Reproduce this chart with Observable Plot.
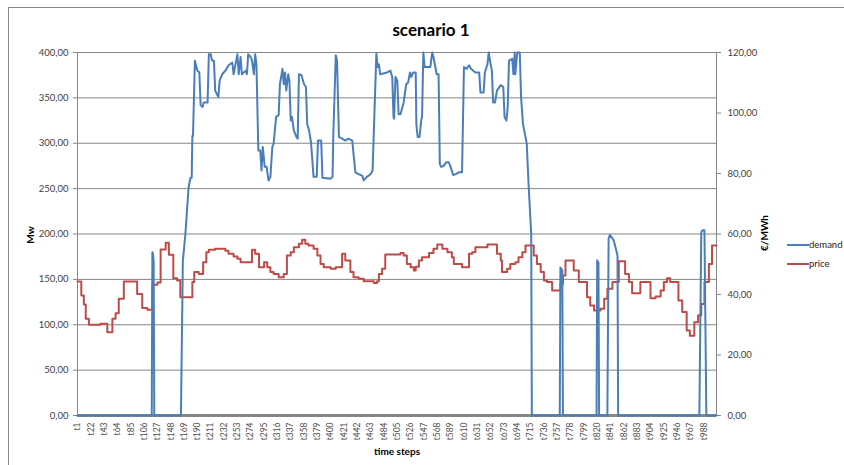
<!DOCTYPE html>
<html>
<head>
<meta charset="utf-8">
<script src="https://cdn.jsdelivr.net/npm/d3@7"></script>
<script src="https://cdn.jsdelivr.net/npm/@observablehq/plot@0.6"></script>
<style>
  body { margin: 0; background: #fff; font-family: Lato, "Liberation Sans", sans-serif; }
  #wrap { position: relative; width: 844px; height: 465px; overflow: hidden; background: #fff; }
  #border { position: absolute; left: 8px; top: 7px; width: 900px; height: 500px;
            border-left: 1px solid #8a8a8a; border-top: 1px solid #8a8a8a; }
  #chart { position: absolute; left: 0; top: 0; }
  .t { position: absolute; white-space: nowrap; color: #000; line-height: 1; }
  .b { font-weight: bold; }
  .rot { transform: translate(-50%, -50%) rotate(-90deg); }
  .leg { position: absolute; height: 2px; width: 22px; }
</style>
</head>
<body>
<div id="wrap">
  <div id="border"></div>
  <div id="chart"></div>
  <div class="t b" id="title" style="left:431px;top:29px;font-size:17px;transform:translate(-50%,-50%);">scenario 1</div>
  <div class="t b rot" style="left:30px;top:235px;font-size:10px;">Mw</div>
  <div class="t b rot" style="left:764px;top:233px;font-size:10px;">€/MWh</div>
  <div class="t b" style="left:397px;top:451px;font-size:10px;transform:translate(-50%,-50%);">time steps</div>
  <div class="leg" style="left:787px;top:244px;background:#4a7ebb;"></div>
  <div class="t" style="left:809px;top:239.5px;font-size:9.5px;color:#222;">demand</div>
  <div class="leg" style="left:787px;top:263px;background:#be4b48;"></div>
  <div class="t" style="left:809px;top:258.5px;font-size:9.5px;color:#222;">price</div>
</div>
<script>
// ---- data ----
const seriesNames = ["demand", "price"];
const nSteps = 1008;

const xTicks = [1,22,43,64,85,106,127,148,169,190,211,232,253,274,295,316,337,358,379,400,421,442,463,484,505,526,547,568,589,610,631,652,673,694,715,736,757,778,799,820,841,862,883,904,925,946,967,988];
const leftTicks = [0,50,100,150,200,250,300,350,400];
const rightTicks = [0,20,40,60,80,100,120];

// demand (Mw) : time step, value
const demandT = [1,118,119,120,121,122,164,167,171,176,179,181,182,183,186,190,193,195,198,200,206,208,211,213,216,218,223,225,229,234,239,245,247,253,255,258,260,266,268,270,274,276,279,281,283,286,289,291,293,296,299,302,305,308,310,314,318,320,324,326,328,330,333,335,337,339,342,346,348,350,354,358,361,363,366,369,373,378,380,385,387,400,403,404,408,410,413,418,423,428,434,436,439,444,450,452,457,463,466,472,474,476,478,489,494,497,499,500,502,505,507,510,515,519,522,525,527,530,534,535,537,540,543,544,546,548,557,560,562,567,570,572,574,578,582,586,589,593,597,602,607,610,614,618,621,628,634,636,641,643,647,649,652,654,656,659,662,668,672,674,677,679,681,686,688,690,691,694,698,700,703,707,709,712,716,717,761,762,765,766,819,820,822,823,836,838,840,843,846,850,852,853,981,984,986,989,992,1008];
const demandV = [0,0,180,178,170,0,0,170,200,251,262,262,308,308,391,380,378,342,340,345,345,398,398,391,391,358,351,369,376,380,386,389,376,398,376,395,376,380,376,398,395,391,376,398,387,292,292,270,296,274,274,259,263,296,299,329,331,365,382,365,378,358,376,369,325,329,314,307,305,376,375,365,362,321,314,301,263,263,303,303,262,261,263,306,397,391,307,305,303,305,303,288,268,266,264,259,263,266,270,399,384,387,376,378,380,373,329,327,373,369,332,332,345,365,367,378,373,378,378,321,307,307,327,329,400,384,384,400,395,376,376,277,274,275,279,279,274,265,266,268,268,384,382,386,382,378,378,356,356,378,387,400,387,380,345,345,358,364,362,329,325,340,391,393,376,400,376,400,400,351,321,307,299,252,200,0,0,163,160,0,0,171,168,0,0,195,199,196,193,182,176,0,0,202,204,204,0,0];

// price (€/MWh) : step start, value
const priceT = [1,7,11,14,19,37,48,56,61,66,74,95,103,111,119,127,132,140,145,152,158,163,182,185,192,199,204,208,218,234,239,247,253,258,276,281,287,295,300,305,310,318,326,331,337,342,350,355,360,365,373,379,384,389,400,408,418,423,431,436,444,452,468,473,476,481,486,510,515,520,526,531,534,539,544,555,562,568,576,584,591,594,607,618,623,628,647,662,668,670,678,683,691,696,702,707,720,725,731,736,741,749,762,766,770,783,791,804,809,815,825,831,836,844,854,864,870,875,888,904,912,920,925,930,935,948,954,961,966,973,979,984,989,996,1001,1008];
const priceV = [44.3,39.7,36.7,32,30,30.3,27.5,32,33.8,38.6,44.3,40.2,35.5,35,43.2,44,54.9,57.1,53.1,45.4,44.6,39.1,44.1,47.4,46.8,50.7,54,54.8,55.1,54.5,53.5,52.6,51.8,50.7,54.8,53.5,49,50.7,49,47.4,46.8,45.7,46.8,52.9,54,55.6,56.8,58.1,56.8,56.2,55.1,52.9,50.1,49,48.5,49,53.5,51.2,47.4,45.7,45.2,44.4,43.8,44.4,46.8,48.5,53.2,53.7,52.9,50.1,49,47.9,49.2,51.2,52.3,53.7,55.1,56.5,55.1,54,52.3,50.1,49,53.5,54,55.6,56.5,53.5,51.2,47.4,48.5,50.1,50.7,52.3,54,56.2,52.9,50.1,47.4,44.6,44.1,41.3,43.5,46.3,51.2,47.9,44.1,39.1,36.4,34.7,35.3,38.6,41.9,44.1,51,46.8,44.1,40.4,44.1,38.8,39.3,41.3,44.1,45.4,44.1,38,34.2,28.1,26.4,30.8,33.1,36.9,44.1,50.1,56.2,56.2];

// ---- build ----
const leftMax = 400, rightMax = 120;
const toLeft = p => p * leftMax / rightMax;
const fmt = v => v.toFixed(2).replace(".", ",");

const demand = demandT.map((t, i) => ({t, v: demandV[i]}));
const price = priceT.map((t, i) => ({t, v: priceV[i]}));

const gridColor = "#868686";
const textColor = "#404040";

const chart = Plot.plot({
  width: 844,
  height: 465,
  marginLeft: 77,
  marginRight: 128,
  marginTop: 52,
  marginBottom: 50,
  style: { fontFamily: "Lato, 'Liberation Sans', sans-serif", fontSize: "9.5px", background: "transparent", overflow: "visible" },
  x: { type: "linear", domain: [1, nSteps] },
  y: { domain: [0, leftMax] },
  marks: [
    Plot.ruleY(leftTicks, { stroke: gridColor, strokeWidth: 1 }),
    Plot.ruleX([1, nSteps], { stroke: gridColor, strokeWidth: 1 }),
    Plot.axisY({ anchor: "left", ticks: leftTicks, tickFormat: fmt, tickSize: 4, tickPadding: 5,
                 label: null, stroke: gridColor, fill: textColor, fontSize: 9.5 }),
    Plot.axisY({ anchor: "right", ticks: rightTicks.map(toLeft), tickFormat: v => fmt(v * rightMax / leftMax),
                 tickSize: 4, tickPadding: 7, label: null, stroke: gridColor, fill: textColor, fontSize: 9.5 }),
    Plot.axisX({ anchor: "bottom", ticks: xTicks, tickFormat: d => "t" + d, tickRotate: -90, tickSize: 0,
                 tickPadding: 7, label: null, fill: "#505050", fontSize: 8.5 }),
    Plot.ruleY([0], { stroke: gridColor, strokeWidth: 3 }),
    Plot.line(price, { x: "t", y: d => toLeft(d.v), curve: "step-after", stroke: "#be4b48", strokeWidth: 2 }),
    Plot.line(demand, { x: "t", y: "v", stroke: "#4a7ebb", strokeWidth: 2 })
  ]
});
document.getElementById("chart").appendChild(chart);
</script>
</body>
</html>
